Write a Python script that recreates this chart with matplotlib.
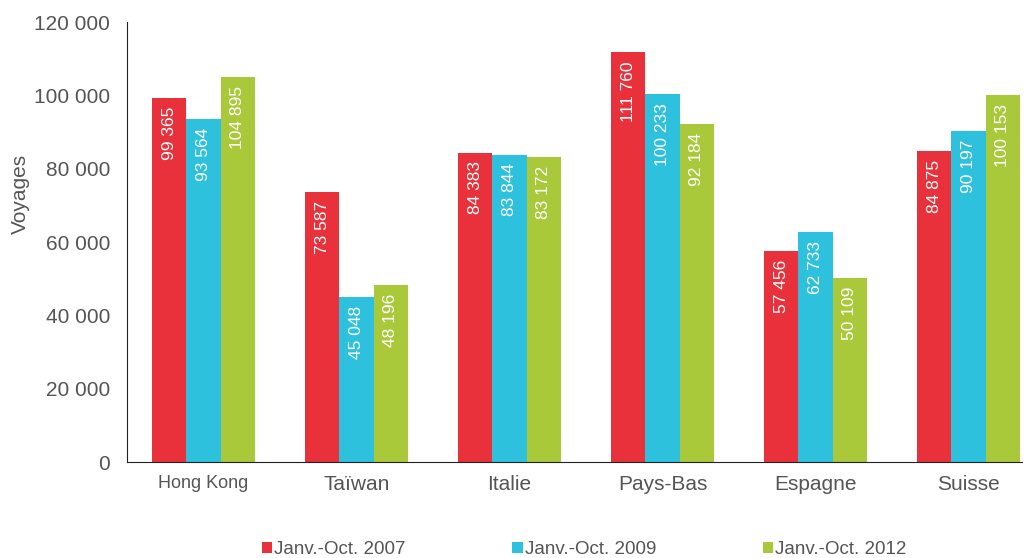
import matplotlib.pyplot as plt
import numpy as np

plt.rcParams['font.family'] = ['Liberation Sans', 'DejaVu Sans']

pays = ['Hong Kong', 'Taïwan', 'Italie', 'Pays-Bas', 'Espagne', 'Suisse']
v2007 = [99365, 73587, 84383, 111760, 57456, 84875]
v2009 = [93564, 45048, 83844, 100233, 62733, 90197]
v2012 = [104895, 48196, 83172, 92184, 50109, 100153]
periodes = ['Janv.-Oct. 2007', 'Janv.-Oct. 2009', 'Janv.-Oct. 2012']
couleurs = ['#e8313a', '#2ec1de', '#a9c83a']

fig = plt.figure(figsize=(10.26, 5.58), dpi=100)
ax = fig.add_axes([127/1026, 1 - 462/558, (1022-127)/1026, 440/558])

x = np.arange(len(pays))
w = 0.225
for i, (vals, lab, c) in enumerate(zip([v2007, v2009, v2012], periodes, couleurs)):
    pos = x + (i - 1) * w
    ax.bar(pos, vals, w, color=c, label=lab)
    for p, v in zip(pos, vals):
        txt = f'{v:,}'.replace(',', ' ')
        ax.text(p, v - 2400, txt, rotation=90, ha='center', va='top',
                color='white', fontsize=12.5)

ax.set_ylim(0, 120000)
ax.set_xlim(-0.5, 5.35)
ax.set_yticks(range(0, 120001, 20000))
ax.set_yticklabels([f'{t:,}'.replace(',', ' ') for t in range(0, 120001, 20000)])
ax.set_xticks(x)
ax.set_xticklabels(pays)
ax.tick_params(length=0, labelsize=15, colors='#555555')
ax.tick_params(axis='y', pad=12)
ax.tick_params(axis='x', pad=9)
ax.get_xticklabels()[0].set_fontsize(13)
for s in ['top', 'right']:
    ax.spines[s].set_visible(False)
ax.spines['left'].set_color('#222222')
ax.spines['bottom'].set_color('#222222')
ax.set_ylabel('Voyages', fontsize=15, color='#555555')
ax.yaxis.set_label_coords(-0.108, 0.61)

leg = fig.legend(loc='lower left', bbox_to_anchor=(245/1026, -0.03), ncol=3,
                 frameon=False, fontsize=13.5, handlelength=0.55, handleheight=0.55,
                 handletextpad=0.1, columnspacing=5.7)
for t in leg.get_texts():
    t.set_color('#555555')

fig.savefig('out.png', dpi=100)
